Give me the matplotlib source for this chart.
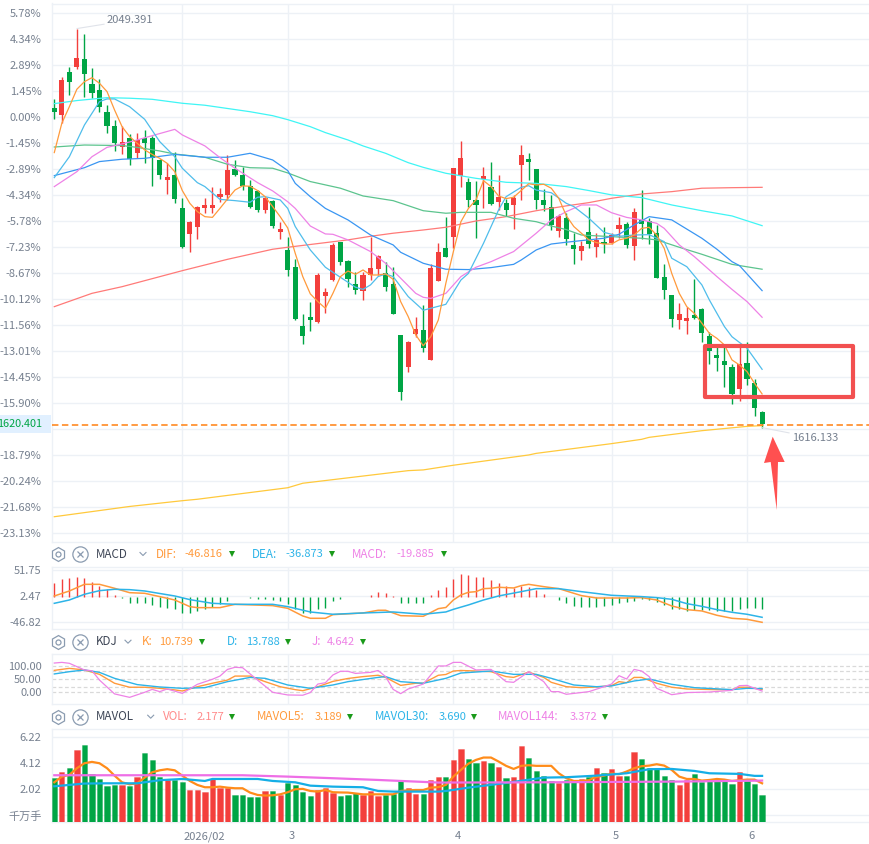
import matplotlib
matplotlib.use('Agg')
import matplotlib.pyplot as plt
from matplotlib.patches import Rectangle, Polygon

plt.rcParams['font.family'] = ['Noto Sans CJK SC', 'DejaVu Sans']

# candles, in percent against the base price
opens = [0.52, 0.13, 2.52, 2.80, 3.24, 1.85, 1.52, 0.30, -0.48, -1.67, -1.15, -1.96, -1.15, -1.15, -2.37, -3.48,
         -3.20, -5.06, -6.46, -6.07, -5.04, -5.04, -4.43, -4.31, -2.87, -3.22, -3.81, -4.09, -5.13, -4.65, -6.35,
         -7.37, -8.31, -11.59, -11.11, -11.35, -9.91, -9.04, -6.93, -7.98, -9.26, -9.63, -8.76, -8.43, -8.67, -9.26,
         -12.09, -13.85, -12.02, -11.81, -13.46, -9.07, -7.26, -6.63, -3.24, -3.59, -4.59, -3.44, -3.87, -4.69, -4.78,
         -4.85, -2.63, -2.31, -2.89, -4.61, -4.98, -6.30, -5.61, -7.09, -7.41, -6.37, -7.20, -6.93, -7.00, -6.20,
         -5.93, -7.13, -5.70, -5.76, -6.44, -8.87, -9.87, -11.24, -11.32, -10.96, -10.65, -12.15, -13.20, -13.54,
         -13.87, -15.07, -13.65, -14.78, -16.37]
closes = [0.31, 2.07, 1.98, 3.30, 2.43, 1.37, 0.59, -0.48, -1.44, -1.37, -2.33, -1.28, -1.43, -2.26, -3.19, -3.33,
          -4.52, -7.19, -5.81, -5.00, -4.87, -4.87, -4.26, -2.93, -3.22, -3.81, -4.96, -5.13, -4.46, -6.04, -6.20,
          -8.48, -11.20, -12.13, -11.24, -8.76, -9.70, -7.09, -8.02, -8.96, -9.59, -8.76, -8.37, -7.70, -9.41, -10.91,
          -15.24, -12.48, -11.78, -12.80, -8.37, -7.48, -7.74, -2.81, -2.26, -4.57, -4.85, -3.26, -4.80, -4.44, -5.13,
          -4.50, -2.09, -2.46, -4.57, -4.87, -6.00, -5.50, -6.74, -7.30, -7.15, -7.04, -6.81, -7.06, -6.56, -5.98,
          -7.09, -5.26, -5.91, -6.48, -8.91, -9.57, -11.20, -10.93, -11.15, -11.15, -12.00, -12.96, -13.35, -13.76,
          -15.35, -13.70, -14.52, -16.13, -17.04]
highs = [1.02, 2.22, 2.80, 4.93, 4.65, 2.74, 2.13, 0.69, -0.15, -0.48, -0.93, -0.85, -0.70, -1.04, -2.33, -2.56,
         -1.91, -4.48, -5.78, -4.93, -4.48, -3.87, -3.93, -2.09, -2.37, -2.74, -3.48, -4.04, -4.41, -4.59, -5.83,
         -6.67, -7.87, -10.93, -10.26, -8.67, -9.50, -7.00, -6.91, -7.93, -8.59, -8.57, -6.63, -7.65, -8.02, -8.30,
         -12.09, -12.43, -11.07, -10.43, -8.17, -7.00, -5.54, -2.81, -1.31, -3.39, -3.54, -2.76, -2.48, -3.20, -4.54,
         -4.31, -1.54, -1.98, -2.87, -4.00, -4.31, -5.39, -5.30, -6.41, -6.87, -4.96, -6.44, -6.07, -6.44, -5.52,
         -5.80, -5.02, -4.04, -5.61, -5.98, -8.15, -9.87, -10.31, -10.54, -8.98, -10.59, -11.94, -12.65, -12.74,
         -13.70, -12.65, -12.50, -14.56, -16.31]
lows = [-0.07, -0.33, 1.24, 2.70, 1.15, 1.06, 0.31, -0.85, -1.85, -2.04, -2.65, -2.28, -2.52, -3.81, -3.43, -4.26,
        -4.74, -7.24, -7.48, -6.76, -5.30, -5.30, -4.69, -4.59, -3.26, -4.04, -5.04, -5.26, -5.33, -6.15, -6.74,
        -8.80, -11.26, -12.59, -11.85, -11.41, -10.85, -9.09, -8.20, -9.41, -9.81, -10.15, -9.04, -8.76, -9.65, -10.93,
        -15.70, -14.13, -12.19, -13.04, -13.48, -9.09, -7.76, -7.24, -3.85, -5.00, -6.69, -5.02, -4.87, -5.15, -5.48,
        -6.19, -4.59, -3.48, -5.09, -5.19, -6.26, -6.63, -7.09, -8.15, -7.93, -7.26, -7.76, -7.54, -7.04, -6.72,
        -7.24, -7.93, -6.78, -7.04, -8.93, -10.09, -11.65, -11.76, -12.02, -11.20, -12.50, -13.70, -14.09, -14.96,
        -15.91, -15.74, -14.87, -16.57, -17.24]

# moving averages on the main pane
ma5 = [-1.96, -0.33, 0.59, 1.56, 1.98, 2.20, 1.89, 1.43, 0.41, -0.52, -1.07, -1.44, -1.81, -2.06, -2.28, -2.56, -3.02,
       -4.07, -4.78, -5.24, -5.52, -5.56, -5.06, -4.54, -4.04, -3.81, -3.83, -4.07, -4.41, -4.96, -5.52, -6.15, -7.56,
       -8.85, -9.81, -10.24, -10.61, -9.78, -8.85, -8.54, -8.72, -8.48, -8.76, -8.76, -8.70, -9.00, -10.24, -11.07,
       -12.09, -12.69, -12.19, -11.26, -9.22, -7.46, -5.80, -5.06, -4.59, -3.52, -3.85, -4.37, -4.52, -4.44, -4.07,
       -3.69, -3.76, -3.72, -3.94, -4.50, -5.47, -6.07, -6.44, -6.81, -6.96, -7.04, -7.04, -6.81, -6.72, -6.54, -6.17,
       -6.11, -6.54, -7.28, -8.67, -9.78, -10.52, -10.89, -11.44, -12.00, -12.28, -12.65, -13.48, -13.76, -14.13,
       -14.78, -15.37]
ma10_x = [0, 2, 4, 6, 7, 8, 10, 12, 14, 16, 17, 19, 20, 22, 24, 26, 27, 28, 30, 31, 32, 34, 36, 38, 40, 41, 42, 43, 44,
          45, 47, 49, 52, 54, 55, 57, 59, 60, 62, 63, 64, 66, 68, 69, 71, 73, 75, 77, 79, 81, 82, 84, 86, 87, 89, 90,
          92, 94]
ma10 = [-3.35, -2.19, -0.43, 0.87, 1.02, 1.02, 0.59, -0.11, -1.35, -2.19, -2.83, -3.63, -3.85, -4.56, -4.63, -4.72,
        -4.44, -4.41, -4.59, -5.06, -6.07, -7.37, -8.33, -8.89, -9.44, -9.56, -9.31, -8.85, -8.70, -8.85, -9.96,
        -10.72, -10.39, -9.04, -8.67, -7.00, -5.15, -4.41, -3.89, -3.80, -4.04, -4.19, -4.78, -4.96, -5.61, -6.39,
        -6.61, -6.54, -6.52, -6.91, -7.83, -8.30, -9.31, -10.15, -11.63, -12.19, -12.83, -14.00]
ma20_x = [0, 3, 5, 7, 9, 11, 13, 16, 17, 20, 22, 24, 27, 29, 31, 32, 34, 36, 37, 39, 42, 44, 46, 48, 49, 50, 52, 54,
          56, 58, 61, 64, 66, 68, 70, 72, 74, 76, 78, 80, 81, 83, 85, 88, 90, 92, 94]
ma20 = [-3.85, -3.02, -2.19, -1.67, -1.48, -1.26, -1.02, -0.67, -0.98, -1.59, -2.24, -2.83, -3.63, -4.09, -4.69, -5.06,
        -6.04, -6.48, -6.50, -6.81, -7.46, -8.11, -8.94, -9.78, -10.00, -10.06, -9.78, -8.85, -8.33, -8.02, -7.46,
        -6.44, -5.70, -5.24, -4.87, -4.87, -5.30, -5.56, -5.70, -5.89, -6.17, -7.09, -7.74, -8.85, -9.56, -10.24,
        -11.11]
ma30_x = [0, 4, 6, 9, 12, 16, 20, 23, 26, 29, 31, 32, 34, 36, 39, 42, 45, 46, 49, 52, 55, 58, 61, 62, 64, 66, 68, 70,
          73, 75, 77, 79, 82, 86, 88, 90, 91, 94]
ma30 = [-3.24, -2.80, -2.46, -2.33, -2.28, -2.06, -2.22, -2.22, -2.00, -2.37, -2.96, -3.67, -4.41, -5.06, -5.70, -6.54,
        -7.09, -7.50, -8.11, -8.44, -8.46, -8.35, -8.17, -7.93, -7.37, -7.04, -6.94, -6.85, -6.72, -6.50, -5.98, -5.52,
        -5.70, -6.72, -7.33, -8.02, -8.24, -9.63]
ma60_x = [0, 4, 9, 11, 14, 16, 20, 23, 26, 29, 31, 34, 38, 41, 45, 49, 52, 54, 58, 61, 64, 66, 68, 70, 74, 78, 80, 83,
          86, 90, 94]
ma60 = [-1.65, -1.54, -1.57, -1.67, -1.87, -2.04, -2.22, -2.61, -2.80, -2.83, -3.09, -3.57, -3.94, -4.37, -4.63, -5.19,
        -5.33, -5.28, -5.28, -5.61, -5.80, -6.04, -6.24, -6.54, -6.63, -6.72, -6.81, -7.22, -7.61, -8.17, -8.44]
ma120_x = [0, 3, 7, 10, 13, 17, 20, 26, 29, 31, 34, 36, 39, 41, 44, 47, 49, 52, 56, 60, 64, 68, 71, 74, 78, 82, 86, 90,
           94]
ma120 = [0.76, 0.93, 1.09, 1.06, 1.00, 0.78, 0.67, 0.31, 0.09, -0.13, -0.52, -0.85, -1.26, -1.59, -2.00, -2.52, -2.78,
         -3.11, -3.39, -3.61, -3.67, -3.85, -4.07, -4.31, -4.46, -4.87, -5.19, -5.48, -6.02]
ma250_x = [0, 5, 9, 17, 23, 26, 29, 31, 39, 42, 45, 49, 52, 56, 60, 64, 68, 71, 74, 78, 82, 86, 90, 94]
ma250 = [-10.52, -9.78, -9.41, -8.52, -7.89, -7.61, -7.33, -7.22, -6.81, -6.61, -6.44, -6.26, -6.11, -5.76, -5.52,
         -5.19, -4.92, -4.74, -4.50, -4.26, -4.13, -3.94, -3.91, -3.89]
ma500_x = [0, 10, 17, 19, 31, 33, 47, 49, 53, 63, 64, 74, 78, 79, 86, 87, 92, 94]
ma500 = [-22.19, -21.62, -21.30, -21.22, -20.58, -20.33, -19.63, -19.59, -19.33, -18.76, -18.67, -18.13, -17.89,
         -17.78, -17.41, -17.37, -17.17, -17.13]

# MACD pane
macd_hist = [26.5, 34.1, 36.7, 38.6, 36.7, 29.1, 21.5, 15.2, 4.4, -1.9, -10.1, -10.1, -11.4, -14.5, -17.7, -19.6, -21.5,
             -29.1, -29.1, -25.9, -21.5, -17.7, -13.3, -7.0, 0.0, 0.0, -1.3, -3.2, -2.5, -5.1, -7.0, -12.6, -21.5,
             -29.1, -29.1, -21.5, -20.9, -7.0, -3.2, 0.0, 0.0, 1.3, 4.4, 9.5, 8.8, 2.5, -11.4, -11.4, -10.1, -10.1,
             4.4, 13.9, 19.9, 34.8, 44.2, 42.3, 38.6, 38.6, 32.9, 27.2, 21.5, 18.3, 21.5, 19.0, 13.9, 5.7, 0.0, -5.1,
             -10.1, -15.8, -17.7, -17.7, -17.7, -15.8, -13.9, -10.1, -9.5, -6.3, -3.8, -4.4, -9.5, -15.2, -21.5,
             -22.8, -25.3, -23.4, -23.4, -24.0, -25.3, -25.3, -25.9, -22.1, -19.6, -20.2, -21.5]
dif_x = [0, 2, 4, 6, 8, 10, 12, 14, 16, 18, 19, 22, 24, 29, 31, 33, 34, 36, 37, 41, 43, 44, 46, 49, 51, 52, 53, 54, 55,
         56, 57, 58, 59, 61, 62, 63, 65, 67, 70, 72, 76, 78, 80, 82, 84, 86, 88, 90, 92, 94]
dif = [2.5, 12.0, 24.6, 24.6, 17.1, 8.8, 7.6, 1.3, -5.1, -17.7, -19.6, -19.6, -13.3, -15.8, -20.9, -35.4, -39.8, -39.8,
       -32.9, -29.7, -24.6, -24.6, -34.8, -36.0, -21.5, -19.3, -5.1, 4.4, 9.5, 10.7, 16.4, 17.1, 19.0, 17.7, 22.1,
       24.6, 20.2, 16.4, 3.2, -1.3, -1.3, -0.6, -5.1, -16.4, -23.4, -25.9, -34.1, -39.8, -41.7, -47.4]
dea_x = [0, 2, 4, 6, 8, 10, 12, 16, 18, 21, 24, 29, 31, 34, 37, 41, 45, 49, 52, 53, 55, 57, 59, 62, 64, 67, 70, 74, 78,
         80, 82, 84, 86, 88, 90, 92, 94]
dea = [-11.4, -5.1, 5.7, 12.6, 15.2, 14.5, 12.0, 2.5, -4.4, -11.4, -13.3, -13.3, -17.7, -27.8, -32.2, -29.7, -27.8,
       -32.2, -27.8, -22.8, -14.5, -5.1, 2.5, 10.7, 16.4, 16.4, 10.7, 3.8, 1.3, -0.6, -3.8, -12.0, -17.1, -23.4, -28.4,
       -32.2, -37.9]

# KDJ pane
k_x = [0, 2, 4, 6, 8, 10, 12, 14, 16, 17, 19, 21, 23, 24, 26, 28, 30, 32, 33, 35, 37, 39, 41, 43, 44, 46, 48, 49, 51,
       52, 53, 54, 56, 58, 60, 61, 63, 65, 66, 68, 70, 72, 74, 75, 76, 77, 78, 80, 82, 84, 88, 90, 91, 92, 94]
k_vals = [82.5, 90, 84, 67.5, 34, 19, 19, 15, 9, 5, 21, 34, 46, 61, 61, 40, 21, 10, 6, 21, 41, 52, 59, 64, 56, 26, 34,
          34, 64, 67, 80, 82, 80, 77.5, 59, 56, 76, 56, 37.5, 21, 17.5, 20, 25, 40, 36, 56, 56, 34, 19, 12.5, 10, 10,
          19, 19, 10.7]
d_x = [0, 2, 4, 6, 8, 11, 14, 17, 20, 23, 26, 28, 31, 34, 37, 39, 43, 44, 46, 49, 52, 54, 58, 61, 64, 66, 69, 72, 74,
       77, 79, 82, 85, 90, 92, 94]
d_vals = [69, 77.5, 84, 75, 52.5, 29, 20, 15, 17.5, 40, 56, 52.5, 27.5, 15, 27.5, 40, 56, 59, 40, 34, 52.5, 72.5, 80,
          67.5, 67.5, 52.5, 27.5, 21, 24, 42.5, 50, 30, 17.5, 10, 15, 13.8]
j_x = [0, 1, 2, 4, 5, 6, 8, 10, 12, 13, 14, 15, 17, 19, 21, 22, 23, 24, 25, 27, 29, 31, 33, 34, 35, 36, 37, 38, 39, 40,
       42, 43, 44, 45, 46, 47, 49, 51, 52, 53, 54, 56, 58, 60, 61, 63, 65, 66, 67, 68, 71, 73, 74, 75, 76, 77, 78, 79,
       80, 82, 84, 87, 90, 91, 92, 94]
j_vals = [110, 112.5, 109, 84, 81, 46, -6, -19, 0, 11, 2.5, 12.5, -4, 30, 49, 61, 86, 94, 92.5, 46, 0, -10, -11, -1, 31,
          36, 65, 79, 79, 71, 75, 82, 59, 11, -5, 12.5, 31, 99, 99, 112.5, 112.5, 84, 86, 40, 37.5, 77.5, 40, 2.5, 2.5,
          -7.5, 2.5, 21, 31, 62.5, 50, 86, 80, 59, 15, -9, -1, 1, 7.5, 25, 26, 4.6]

# volume pane, in the bars' own units (tens of millions of lots)
vol = [3.56, 4.04, 4.37, 5.82, 6.23, 3.88, 3.48, 2.91, 2.99, 2.99, 2.91, 3.69, 5.58, 5.01, 3.69, 3.45, 3.42, 3.23, 2.59,
       2.59, 2.43, 3.50, 2.80, 2.80, 2.18, 2.18, 2.02, 2.02, 2.51, 2.51, 2.18, 3.15, 3.05, 2.43, 2.10, 2.59, 2.75, 2.35,
       2.10, 2.18, 2.35, 2.18, 2.51, 2.10, 2.18, 2.26, 3.40, 2.75, 2.26, 2.26, 3.40, 3.64, 3.64, 5.01, 5.93, 5.12, 4.82,
       4.99, 4.82, 4.45, 3.56, 3.64, 6.15, 5.18, 4.18, 3.72, 3.32, 3.15, 3.45, 3.23, 3.50, 3.64, 4.37, 3.96, 4.29, 3.77,
       3.77, 5.71, 5.09, 4.37, 4.29, 3.72, 3.40, 2.99, 3.42, 3.91, 3.23, 3.40, 3.32, 3.34, 3.07, 4.04, 3.34, 3.13, 2.18]
mavol5 = [3.23, 3.69, 3.83, 4.37, 4.77, 4.88, 4.77, 4.37, 3.77, 3.23, 3.07, 3.15, 3.61, 4.04, 4.20, 4.29, 4.20, 3.77,
          3.34, 3.02, 2.83, 2.83, 2.88, 2.80, 2.75, 2.75, 2.40, 2.21, 2.16, 2.18, 2.26, 2.43, 2.67, 2.70, 2.53, 2.48,
          2.61, 2.43, 2.41, 2.40, 2.33, 2.26, 2.26, 2.26, 2.26, 2.26, 2.53, 2.58, 2.61, 2.61, 2.80, 2.84, 3.02, 3.69,
          4.23, 4.74, 5.04, 5.23, 5.23, 4.91, 4.56, 4.31, 4.56, 4.61, 4.56, 4.56, 4.56, 3.96, 3.56, 3.34, 3.34, 3.40,
          3.67, 3.77, 3.94, 3.88, 4.10, 4.37, 4.53, 4.58, 4.69, 4.58, 4.23, 3.69, 3.50, 3.50, 3.37, 3.42, 3.50, 3.45,
          3.34, 3.40, 3.45, 3.45, 3.15]
mavol30_x = [0, 4, 7, 11, 14, 17, 20, 21, 27, 29, 32, 34, 37, 41, 43, 45, 51, 52, 55, 60, 65, 68, 72, 76, 79, 82, 85,
             87, 91, 93, 94]
mavol30 = [2.91, 3.13, 3.15, 3.15, 3.40, 3.50, 3.34, 3.50, 3.50, 3.34, 3.23, 2.96, 2.88, 2.83, 2.53, 2.48, 2.48, 2.53,
           2.80, 3.18, 3.61, 3.64, 3.77, 3.96, 4.29, 4.31, 4.15, 3.96, 3.91, 3.75, 3.75]
mavol144_x = [0, 25, 31, 37, 43, 51, 65, 83, 94]
mavol144 = [3.80, 3.80, 3.69, 3.56, 3.42, 3.21, 3.23, 3.29, 3.37]

main_labels = ['5.78%', '4.34%', '2.89%', '1.45%', '0.00%', '-1.45%', '-2.89%', '-4.34%', '-5.78%', '-7.23%', '-8.67%',
               '-10.12%', '-11.56%', '-13.01%', '-14.45%', '-15.90%', '-17.34%', '-18.79%', '-20.24%', '-21.68%',
               '-23.13%']
main_ticks = [5.78, 4.335, 2.89, 1.445, 0.0, -1.445, -2.89, -4.335, -5.78, -7.225, -8.67, -10.115, -11.56, -13.005,
              -14.45, -15.895, -17.34, -18.785, -20.23, -21.675, -23.12]
month_idx = [17, 31, 53, 74, 92]
month_labels = ['2026/02', '3', '4', '5', '6']
last_price = '1620.401'
last_pct = -17.07
high_price = '2049.391'
low_price = '1616.133'

RED = '#f33f3c'
GREEN = '#00a545'
GRID = '#edf1f6'
TEXT = '#76808f'
ORANGE = '#ff9a3c'
BLUE = '#2db4e8'
PINK = '#ee82e6'
W, H = 870, 844
FS = 8.0
FS_HEAD = 8.4

idx = list(range(len(opens)))
colors = [RED if c >= o else GREEN for o, c in zip(opens, closes)]
xlim = (-0.305, 108.33)

fig = plt.figure(figsize=(W / 100, H / 100), dpi=100)


def pane(top, bottom):
    ax = fig.add_axes([52 / W, 1 - bottom / H, (W - 52) / W, (bottom - top) / H])
    ax.set_xlim(*xlim)
    for s in ['top', 'right', 'left', 'bottom']:
        ax.spines[s].set_color(GRID)
        ax.spines[s].set_linewidth(1.0)
    ax.set_xticks(month_idx)
    ax.set_xticklabels([])
    ax.tick_params(length=0, labelsize=FS, labelcolor=TEXT, pad=7.5)
    ax.grid(axis='x', color=GRID, lw=1.0)
    ax.set_axisbelow(True)
    return ax


# main pane
ax = pane(3.5, 541.7)
ax.set_ylim((117.3 - 541.7) / 18, (117.3 - 3.5) / 18)
ax.set_yticks(main_ticks)
ax.set_yticklabels(main_labels)
ax.grid(axis='y', color=GRID, lw=1.0)

ax.vlines(idx, lows, highs, colors=colors, lw=1.0, zorder=3)
ax.bar(idx, [abs(c - o) for o, c in zip(opens, closes)], bottom=[min(o, c) for o, c in zip(opens, closes)],
       width=0.68, color=colors, lw=0, zorder=3)

ax.plot(ma500_x, ma500, color='#ffc93c', lw=0.9, zorder=4)
ax.plot(ma250_x, ma250, color='#ff7a78', lw=0.9, zorder=4)
ax.plot(ma120_x, ma120, color='#3ff5f5', lw=0.9, zorder=4)
ax.plot(ma60_x, ma60, color='#5cc48e', lw=0.9, zorder=4)
ax.plot(ma30_x, ma30, color='#3a96f2', lw=0.9, zorder=4)
ax.plot(ma20_x, ma20, color=PINK, lw=0.9, zorder=4)
ax.plot(ma10_x, ma10, color='#4fbdeb', lw=0.9, zorder=4)
ax.plot(idx, ma5, color=ORANGE, lw=0.9, zorder=4)

ax.axhline(last_pct, color='#ff8010', lw=1.1, dashes=(4.2, 2.3), zorder=5)

ax.annotate(high_price, xy=(3, highs[3]), xytext=(107, H - 20), xycoords='data', textcoords='figure pixels',
            fontsize=FS, color=TEXT, va='center', ha='left',
            arrowprops=dict(arrowstyle='-', color='#e0e3ea', lw=0.8, shrinkA=0, shrinkB=0), zorder=6)
ax.annotate(low_price, xy=(94, lows[94]), xytext=(792, H - 438), xycoords='data', textcoords='figure pixels',
            fontsize=FS, color=TEXT, va='center', ha='left',
            arrowprops=dict(arrowstyle='-', color='#e0e3ea', lw=0.8, shrinkA=0, shrinkB=0), zorder=6)

# MACD pane, about 1.896 units per pixel around the 2.47 line at y=596
mp = pane(566.7, 629)
mp.set_ylim(2.47 - (629 - 596) * 1.896, 2.47 + (596 - 566.7) * 1.896)
mp.set_yticks([51.75, 2.47, -46.82])
mp.set_yticklabels(['51.75', '2.47', '-46.82'])
mp.grid(axis='y', color=GRID, lw=1.0)
mp.vlines(idx, 0, macd_hist, colors=[RED if v > 0 else GREEN for v in macd_hist], lw=1.0, zorder=3)
mp.plot(dif_x, dif, color=ORANGE, lw=1.1, zorder=4)
mp.plot(dea_x, dea, color=BLUE, lw=1.1, zorder=5)

# KDJ pane
kp = pane(654, 704)
kp.set_ylim((692.3 - 704) / 0.266, (692.3 - 654) / 0.266)
kp.set_yticks([100, 50, 0])
kp.set_yticklabels(['100.00', '50.00', '0.00'])
for v in [100, 80, 50, 20, 0]:
    kp.axhline(v, color='#d9d9d9', lw=0.9, dashes=(3, 2), zorder=2)
kp.plot(k_x, k_vals, color=ORANGE, lw=1.0, zorder=4)
kp.plot(d_x, d_vals, color=BLUE, lw=1.0, zorder=4)
kp.plot(j_x, j_vals, color=PINK, lw=0.9, zorder=4)

# volume pane
vp = pane(729, 822.3)
vp.set_ylim(0, (822.3 - 729) / 12.38)
vol_tick_pos = [6.866, 4.766, 2.666, 0.566]
vp.set_yticks(vol_tick_pos)
vp.set_yticklabels(['6.22', '4.12', '2.02', '千万手'])
vp.grid(axis='y', color=GRID, lw=1.0)
vp.bar(idx, vol, width=0.7, color=colors, lw=0.7, edgecolor=[c + '55' for c in colors], zorder=3)
vp.plot(idx, mavol5, color='#ff8c1a', lw=1.6, zorder=4)
vp.plot(mavol30_x, mavol30, color='#14aee6', lw=1.6, zorder=5)
vp.plot(mavol144_x, mavol144, color='#ee6ee6', lw=1.6, zorder=6)

# month labels under the last pane
for i, lab in zip(month_idx, month_labels):
    vp.annotate(lab, xy=(i, 0), xytext=(1.0, -9), textcoords='offset pixels', fontsize=FS, color=TEXT, ha='left',
                va='top', annotation_clip=False)

# overlay in pixel coordinates for headers, price tag and hand drawn marks
ov = fig.add_axes([0, 0, 1, 1])
ov.set_xlim(0, W)
ov.set_ylim(H, 0)
ov.axis('off')
ov.patch.set_alpha(0)

ov.add_patch(Rectangle((0, 415), 51, 18, fc='#e1f0ff', ec='none', zorder=8))
ov.text(42, 424.2, last_price, color='#00a545', fontsize=7.8, ha='right', va='center', zorder=9)

ov.add_patch(Rectangle((705, 345.5), 148, 51.5, fc='none', ec='#f25050', lw=3, joinstyle='round', zorder=9))
ov.add_patch(Polygon([(772.7, 436.7), (784.7, 462), (778, 462), (776.7, 510), (770.7, 462), (764, 463)],
                     closed=True, fc='#ff5050', ec='none', zorder=9))


def header(y, name, chevron_x, items):
    ov.plot([58], [y], marker='h', ms=10, mfc='none', mec='#8a9bb0', mew=0.9)
    ov.plot([58], [y], marker='o', ms=3.6, mfc='none', mec='#8a9bb0', mew=0.9)
    ov.plot([80], [y], marker='o', ms=11, mfc='none', mec='#8a9bb0', mew=0.9)
    ov.plot([80], [y], marker='x', ms=4.5, mec='#8a9bb0', mew=0.9)
    ov.text(95.7, y, name, color='#3e4656', fontsize=FS_HEAD, va='center', ha='left')
    ov.plot([chevron_x - 3, chevron_x, chevron_x + 3], [y - 1.5, y + 1.5, y - 1.5], color='#8a9bb0', lw=0.8)
    for lab, lab_x, val, val_x, tri_x, col in items:
        ov.text(lab_x, y, lab, color=col, fontsize=FS_HEAD, va='center', ha='left')
        ov.text(val_x, y, val, color=col, fontsize=FS, va='center', ha='left')
        ov.plot([tri_x], [y], marker='v', ms=4, color='#1a9a1a', mew=0)


header(554, 'MACD', 143, [('DIF:', 156, '-46.816', 184, 232, ORANGE),
                          ('DEA:', 251.7, '-36.873', 285, 331.7, BLUE),
                          ('MACD:', 351.7, '-19.885', 396.7, 443.7, PINK)])
header(641.7, 'KDJ', 128, [('K:', 141.7, '10.739', 159, 201.7, ORANGE),
                           ('D:', 226.7, '13.788', 245.7, 288, BLUE),
                           ('J:', 311.7, '4.642', 327, 363, PINK)])
header(716.7, 'MAVOL', 150.7, [('VOL:', 163.3, '2.177', 196.3, 232, '#ff8a8a'),
                               ('MAVOL5:', 256.7, '3.189', 314.3, 349.7, ORANGE),
                               ('MAVOL30:', 375, '3.690', 438.3, 473.7, BLUE),
                               ('MAVOL144:', 498.3, '3.372', 569.3, 604.7, PINK)])

fig.savefig('out.png', dpi=100)
